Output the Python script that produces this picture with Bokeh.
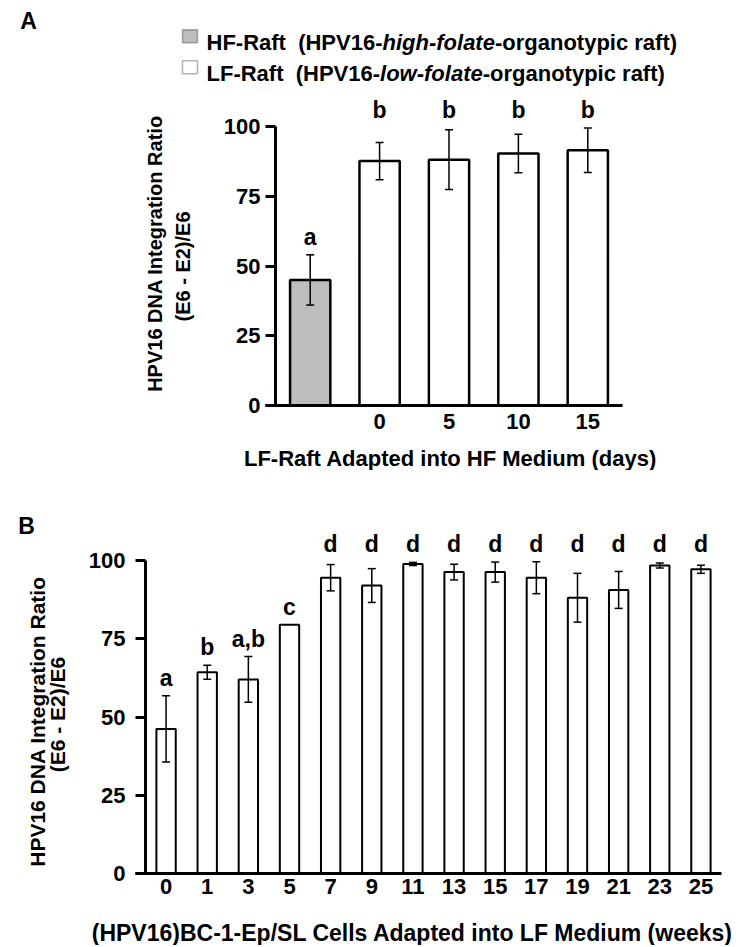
import numpy as np
from bokeh.plotting import figure
from bokeh.models import (ColumnDataSource, FixedTicker, Label, LabelSet, Whisker,
                          TeeHead, BoxAnnotation)
from bokeh.core.properties import value
from bokeh.layouts import column
from bokeh.embed import file_html
from bokeh.resources import INLINE

# ---------------- data ----------------
# Panel A : raft cultures
a_groups = ["HF-Raft", "LF-Raft d0", "LF-Raft d5", "LF-Raft d10", "LF-Raft d15"]
a_tick_labels = ["", "0", "5", "10", "15"]
a_values = [45.0, 87.6, 88.1, 90.3, 91.5]
a_errors = [9.0, 6.7, 10.7, 6.9, 8.0]
a_letters = ["a", "b", "b", "b", "b"]

# Panel B : cells adapted into LF medium
b_weeks = ["0", "1", "3", "5", "7", "9", "11", "13", "15", "17", "19", "21", "23", "25"]
b_values = [46.2, 64.3, 62.0, 79.5, 94.5, 92.0, 98.9, 96.3, 96.3, 94.5, 88.1, 90.6, 98.4, 97.2]
b_errors = [10.6, 2.2, 7.3, 0.0, 4.2, 5.4, 0.5, 2.5, 3.2, 5.1, 7.8, 5.9, 0.8, 1.3]
b_letters = ["a", "b", "a,b", "c", "d", "d", "d", "d", "d", "d", "d", "d", "d", "d"]

y_ticks = [0, 25, 50, 75, 100]
Y_MAX = 100

# ---------------- styling helpers ----------------
FONT = "Liberation Sans"
NB = "\u00a0"
W_BOLD = {' ': 278, NB: 278, '(': 333, ')': 333, '-': 333, '/': 278, ',': 278,
          'A': 722, 'B': 722, 'C': 722, 'D': 722, 'E': 667, 'F': 611, 'H': 722, 'I': 278,
          'L': 611, 'M': 833, 'N': 722, 'P': 667, 'R': 722, 'S': 667, 'V': 667,
          'a': 556, 'c': 556, 'd': 611, 'e': 556, 'f': 333, 'g': 611, 'h': 611, 'i': 278,
          'k': 556, 'l': 278, 'm': 889, 'n': 611, 'o': 611, 'p': 611, 'r': 389, 's': 556,
          't': 333, 'u': 611, 'w': 778, 'y': 556}


def text_w(s, size):
    return sum(W_BOLD.get(c, 556) for c in s) * size / 1000.0


def add_label(p, x, y, text, size, style="bold", align="left", baseline="alphabetic", angle=0.0):
    p.add_layout(Label(x=x, y=y, text=text, text_font=FONT, text_font_size=f"{size}px",
                       text_font_style=style, text_align=align, text_baseline=baseline,
                       angle=angle, text_color="black"))


def letter_heights(vals, errs, letters):
    tops = [v + e for v, e in zip(vals, errs)]
    grp = {}
    for t, l in zip(tops, letters):
        grp[l] = max(grp.get(l, 0.0), t)
    return [grp[l] for l in letters]


def style_axes(p, n, sx, tick_pos, tick_labels, ylab_standoff, xlab_standoff):
    p.xgrid.visible = False
    p.ygrid.visible = False
    p.outline_line_color = None
    p.background_fill_color = "white"
    p.border_fill_color = "white"
    ya = p.yaxis[0]
    ya.fixed_location = -0.5
    ya.ticker = FixedTicker(ticks=y_ticks)
    ya.axis_line_color = None
    ya.major_tick_out = 10
    ya.major_tick_in = 0
    ya.minor_tick_line_color = None
    ya.major_tick_line_width = 3
    ya.major_tick_line_color = "black"
    ya.major_label_text_color = "black"
    ya.major_label_text_font = FONT
    ya.major_label_text_font_style = "bold"
    ya.major_label_text_font_size = "22px"
    ya.major_label_standoff = ylab_standoff
    xa = p.xaxis[0]
    xa.fixed_location = 0
    xa.ticker = FixedTicker(ticks=tick_pos)
    xa.major_label_overrides = {int(t): s for t, s in zip(tick_pos, tick_labels)}
    xa.axis_line_color = None
    xa.major_tick_out = 0
    xa.major_tick_in = 0
    xa.minor_tick_line_color = None
    xa.major_label_text_color = "black"
    xa.major_label_text_font = FONT
    xa.major_label_text_font_style = "bold"
    xa.major_label_text_font_size = "22px"
    xa.major_label_standoff = xlab_standoff
    # axis lines: y from 0 to the top tick, x across all categories (extends by the tick length)
    p.segment(x0=[-0.5], y0=[0], x1=[-0.5], y1=[Y_MAX], line_color="black", line_width=3)
    p.segment(x0=[-0.5 - 10.0 / sx], y0=[0], x1=[n - 0.5], y1=[0], line_color="black", line_width=3)


PAGE_L, PAGE_R = 0, 739

# ---------------- Panel A ----------------
A_TOP, A_BOT = 0, 470            # page rows of the figure
A_Y0, A_Y100 = 405, 126          # page rows of 0 and 100
A_XL, A_SX = 275, 69.4           # page column of the y axis, px per category
nA = len(a_values)
A_SY = (A_Y0 - A_Y100) / 100.0


def ax_(px):
    return -0.5 + (px - A_XL) / A_SX


def ay_(py):
    return (A_Y0 - py) / A_SY


pA = figure(width=PAGE_R - PAGE_L, height=A_BOT - A_TOP,
            x_range=(ax_(PAGE_L), ax_(PAGE_R)), y_range=(ay_(A_BOT), ay_(A_TOP)),
            output_backend="svg", toolbar_location=None,
            min_border=0, min_border_left=0, min_border_right=0, min_border_top=0, min_border_bottom=0)

xa_pos = list(range(nA))
fills_a = ["#bdbdbd" if g.startswith("HF") else "white" for g in a_groups]
srcA = ColumnDataSource(dict(x=xa_pos, top=a_values, fill=fills_a,
                             upper=[v + e for v, e in zip(a_values, a_errors)],
                             lower=[v - e for v, e in zip(a_values, a_errors)]))
pA.vbar(x="x", top="top", bottom=0, width=0.58, fill_color="fill", line_color="black",
        line_width=2.5, source=srcA)
pA.add_layout(Whisker(base="x", upper="upper", lower="lower", source=srcA, line_width=1.5,
                      upper_head=TeeHead(size=8, line_width=1.5),
                      lower_head=TeeHead(size=8, line_width=1.5), level="overlay"))

ha = letter_heights(a_values, a_errors, a_letters)
srcLA = ColumnDataSource(dict(x=xa_pos, y=[h + 10 / A_SY for h in ha], t=a_letters))
pA.add_layout(LabelSet(x="x", y="y", text="t", source=srcLA, text_align="center",
                       text_baseline="alphabetic", text_font=value(FONT),
                       text_font_size="23px", text_font_style="bold", text_color="black"))

style_axes(pA, nA, A_SX, xa_pos[1:], a_tick_labels[1:], 5, 8)

add_label(pA, ax_(28), ay_(20), "A", 23, align="center", baseline="middle")
for (row, yb, sq_fill) in [(["HF-Raft " + NB + "(HPV16-", "high-folate", "-organotypic raft)"], 42.3, fills_a[0]),
                           (["LF-Raft " + NB + "(HPV16-", "low-folate", "-organotypic raft)"], 73.3, fills_a[1])]:
    pA.add_layout(BoxAnnotation(left=ax_(182), right=ax_(197), top=ay_(yb - 13), bottom=ay_(yb),
                                fill_color=sq_fill, fill_alpha=1.0, line_color="black",
                                line_width=1.5, level="overlay"))
    cur = 206
    for k, seg in enumerate(row):
        add_label(pA, ax_(cur), ay_(yb), seg, 22, style="bold italic" if k == 1 else "bold")
        cur += text_w(seg, 22)

add_label(pA, ax_(154), ay_(253), "HPV16 DNA Integration Ratio", 20, align="center",
          baseline="middle", angle=np.pi / 2)
add_label(pA, ax_(182), ay_(266), "(E6 - E2)/E6", 20, align="center",
          baseline="middle", angle=np.pi / 2)
add_label(pA, ax_(450), ay_(458), "LF-Raft Adapted into HF Medium (days)", 22, align="center")

# ---------------- Panel B ----------------
B_TOP, B_BOT = 470, 945
B_Y0, B_Y100 = 873, 560
B_XL = 145
nB = len(b_values)
B_SX = (721 - B_XL) / nB
B_SY = (B_Y0 - B_Y100) / 100.0


def bx_(px):
    return -0.5 + (px - B_XL) / B_SX


def by_(py):
    return (B_Y0 - py) / B_SY


pB = figure(width=PAGE_R - PAGE_L, height=B_BOT - B_TOP,
            x_range=(bx_(PAGE_L), bx_(PAGE_R)), y_range=(by_(B_BOT), by_(B_TOP)),
            output_backend="svg", toolbar_location=None,
            min_border=0, min_border_left=0, min_border_right=0, min_border_top=0, min_border_bottom=0)

xb_pos = list(range(nB))
srcB = ColumnDataSource(dict(x=xb_pos, top=b_values))
pB.vbar(x="x", top="top", bottom=0, width=0.47, fill_color="white", line_color="black",
        line_width=2, source=srcB)
eb = [(x, v, e) for x, v, e in zip(xb_pos, b_values, b_errors) if e > 0]
srcEB = ColumnDataSource(dict(x=[t[0] for t in eb], upper=[t[1] + t[2] for t in eb],
                              lower=[t[1] - t[2] for t in eb]))
pB.add_layout(Whisker(base="x", upper="upper", lower="lower", source=srcEB, line_width=1.5,
                      upper_head=TeeHead(size=8, line_width=1.5),
                      lower_head=TeeHead(size=8, line_width=1.5), level="overlay"))

hb = letter_heights(b_values, b_errors, b_letters)
srcLB = ColumnDataSource(dict(x=xb_pos, y=[h + 10 / B_SY for h in hb], t=b_letters))
pB.add_layout(LabelSet(x="x", y="y", text="t", source=srcLB, text_align="center",
                       text_baseline="alphabetic", text_font=value(FONT),
                       text_font_size="23px", text_font_style="bold", text_color="black"))

style_axes(pB, nB, B_SX, xb_pos, b_weeks, 10, 5)

add_label(pB, bx_(26), by_(525), "B", 23, align="center", baseline="middle")
add_label(pB, bx_(37), by_(721), "HPV16 DNA Integration Ratio", 21, align="center",
          baseline="middle", angle=np.pi / 2)
add_label(pB, bx_(57), by_(714), "(E6 - E2)/E6", 21, align="center",
          baseline="middle", angle=np.pi / 2)
add_label(pB, bx_(412), by_(932), "(HPV16)BC-1-Ep/SL Cells Adapted into LF Medium (weeks)", 23,
          align="center")

layout = column(pA, pB, spacing=0)
open("out.html", "w").write(file_html(layout, INLINE))
